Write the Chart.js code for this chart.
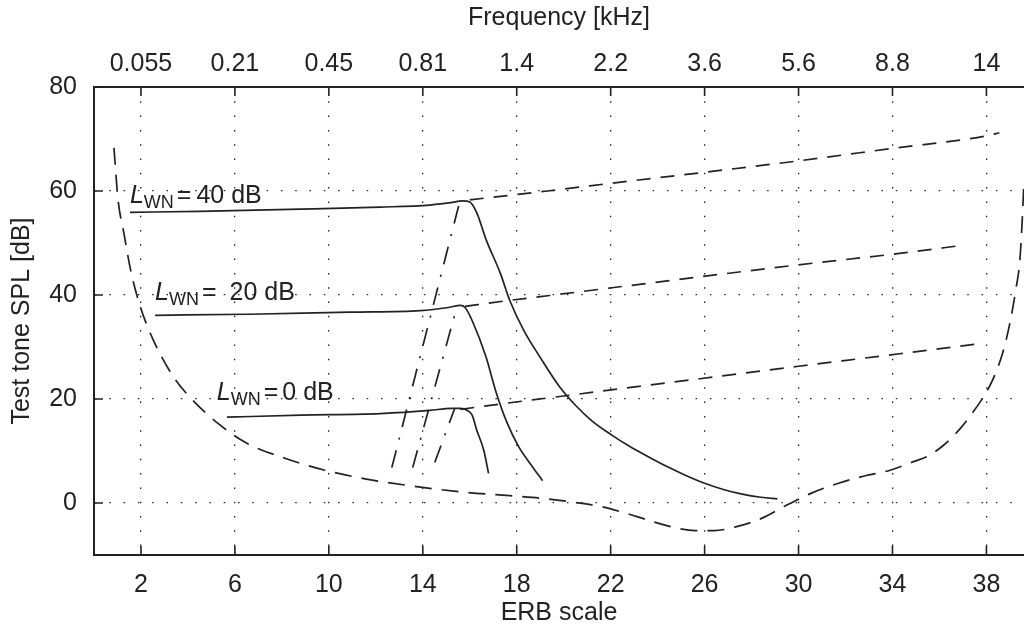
<!DOCTYPE html>
<html>
<head>
<meta charset="utf-8">
<script src="https://cdn.jsdelivr.net/npm/chart.js@4.4.1/dist/chart.umd.min.js"></script>
<style>
html,body{margin:0;padding:0;background:#fff;overflow:hidden}
canvas{display:block}
</style>
</head>
<body>
<canvas id="c" width="1024" height="635"></canvas>
<script>
// ---------- data ----------
const erbTicks = [2, 6, 10, 14, 18, 22, 26, 30, 34, 38];
const freqTickLabels = ['0.055', '0.21', '0.45', '0.81', '1.4', '2.2', '3.6', '5.6', '8.8', '14'];
const yTicks = [0, 20, 40, 60, 80];

// threshold in quiet (dashed)
const thresholdErb = [0.85, 1.02, 1.28, 1.57, 1.96, 2.55, 3.36, 4.09, 5.28, 6.51, 8.13, 9.83, 11.6, 13.5, 15.7, 17.7, 19.3, 20.5, 21.6, 22.6, 23.6, 24.6, 25.6, 26.4, 27.4, 28.4, 29.5, 30.6, 31.7, 32.8, 33.9, 34.8, 35.5, 36.2, 36.9, 37.4, 37.9, 38.3, 38.7, 39.0, 39.25, 39.42, 39.52, 39.6];
const thresholdSpl = [68.3, 58.5, 51.7, 44.6, 37.9, 31.1, 24.4, 20.3, 15.3, 11.5, 8.6, 6.3, 4.6, 3.3, 2.1, 1.4, 0.8, 0.1, -0.7, -1.9, -3.3, -4.6, -5.3, -5.3, -4.5, -3.0, -0.4, 2.0, 3.8, 5.2, 6.3, 7.8, 9.0, 11.2, 14.4, 17.3, 20.6, 24.0, 29.0, 34.6, 41.0, 46.5, 54.0, 62.0];

// masked thresholds, L_WN = 40 / 20 / 0 dB (solid)
const wn40Erb = [1.53, 4.5, 8.8, 12.2, 14.3, 15.1, 15.7, 16.0, 16.3, 16.7, 17.3, 17.7, 18.3, 19.0, 19.8, 20.5, 21.2, 22.0, 22.8, 23.6, 24.4, 25.2, 26.0, 26.8, 27.6, 28.4, 29.1];
const wn40Spl = [55.9, 56.1, 56.5, 56.9, 57.3, 57.7, 58.1, 57.9, 55.8, 50.6, 44.2, 39.0, 33.2, 28.0, 22.5, 18.8, 15.8, 13.2, 10.9, 8.9, 7.0, 5.3, 3.8, 2.6, 1.7, 1.1, 0.8];
const wn20Erb = [2.6, 6.6, 10.9, 13.9, 15.1, 15.6, 15.8, 16.1, 16.7, 17.1, 17.6, 18.1, 18.7, 19.1];
const wn20Spl = [36.1, 36.3, 36.7, 37.0, 37.6, 38.0, 37.6, 35.1, 28.0, 21.6, 15.3, 10.7, 6.8, 4.3];
const wn0Erb = [5.66, 8.8, 12.2, 14.3, 15.2, 15.6, 15.9, 16.1, 16.3, 16.6, 16.8];
const wn0Spl = [16.5, 16.9, 17.2, 17.8, 18.2, 18.2, 17.8, 16.9, 14.0, 10.1, 5.7];

// dashed continuations
const ext40Erb = [16.0, 19.3, 22.6, 26.0, 30.0, 34.0, 38.0, 38.55];
const ext40Spl = [58.3, 60.0, 61.8, 63.6, 65.8, 68.2, 70.6, 71.2];
const ext20Erb = [15.8, 17.4, 19.4, 25.8, 30.0, 34.3, 37.06];
const ext20Spl = [37.8, 38.8, 39.9, 43.5, 45.8, 48.0, 49.6];
const ext0Erb = [15.6, 17.4, 19.5, 25.8, 30.0, 34.3, 37.8];
const ext0Spl = [18.0, 19.1, 20.3, 23.9, 26.3, 28.7, 30.7];

// dash-dot rising slopes
const slope40Erb = [12.68, 15.57];
const slope40Spl = [6.8, 57.9];
const slope20Erb = [13.57, 15.45];
const slope20Spl = [6.8, 37.7];
const slope0Erb = [14.51, 15.36];
const slope0Spl = [7.8, 18.2];

// curve labels
const labelLevels = ['40 dB', '20 dB', '0 dB'];
const labelErb = [1.53, 2.6, 5.23];
const labelSpl = [57.7, 39.0, 19.75];

// ---------- styling / chart ----------
const INK = '#222';
const FONT = "'Liberation Sans', Arial, Helvetica, sans-serif";
const labelGaps = [5, 13, 4];

function pts(xs, ys) { return xs.map((x, i) => ({ x: x, y: ys[i] })); }

const DASH = [17, 10];
const EXT_DASH = [14, 10];
const DASHDOT = [18, 11, 2, 11];

const base = { borderColor: INK, borderWidth: 1.7, pointRadius: 0, pointHoverRadius: 0, fill: false, cubicInterpolationMode: 'monotone' };
const datasets = [
  { label: 'threshold', data: pts(thresholdErb, thresholdSpl), borderDash: DASH },
  { label: 'wn40', data: pts(wn40Erb, wn40Spl) },
  { label: 'wn20', data: pts(wn20Erb, wn20Spl) },
  { label: 'wn0', data: pts(wn0Erb, wn0Spl) },
  { label: 'ext40', data: pts(ext40Erb, ext40Spl), borderDash: EXT_DASH },
  { label: 'ext20', data: pts(ext20Erb, ext20Spl), borderDash: EXT_DASH },
  { label: 'ext0', data: pts(ext0Erb, ext0Spl), borderDash: EXT_DASH },
  { label: 'slope40', data: pts(slope40Erb, slope40Spl), borderDash: DASHDOT, cubicInterpolationMode: 'default', tension: 0 },
  { label: 'slope20', data: pts(slope20Erb, slope20Spl), borderDash: DASHDOT, cubicInterpolationMode: 'default', tension: 0 },
  { label: 'slope0', data: pts(slope0Erb, slope0Spl), borderDash: DASHDOT, cubicInterpolationMode: 'default', tension: 0 }
].map(d => Object.assign({}, base, d));

const setTicks = (vals) => (s) => { s.ticks = vals.map(v => ({ value: v })); };

const decor = {
  id: 'decor',
  beforeDraw(chart) {
    const c = chart.ctx;
    c.save(); c.fillStyle = '#fff'; c.fillRect(0, 0, chart.width, chart.height); c.restore();
  },
  afterDraw(chart) {
    const { ctx, chartArea: a, scales } = chart;
    const x = scales.x, y = scales.y;
    ctx.save();
    ctx.strokeStyle = INK;
    ctx.lineWidth = 1.6;
    ctx.beginPath();
    erbTicks.forEach(v => {
      const p = x.getPixelForValue(v);
      ctx.moveTo(p, a.bottom); ctx.lineTo(p, a.bottom - 9);
      ctx.moveTo(p, a.top); ctx.lineTo(p, a.top + 9);
    });
    yTicks.forEach(v => {
      const p = y.getPixelForValue(v);
      ctx.moveTo(a.left, p); ctx.lineTo(a.left + 9, p);
    });
    ctx.stroke();

    ctx.fillStyle = INK;
    ctx.textBaseline = 'alphabetic';
    ctx.textAlign = 'left';
    labelLevels.forEach((txt, i) => {
      let px = x.getPixelForValue(labelErb[i]);
      const py = y.getPixelForValue(labelSpl[i]);
      ctx.font = 'italic 25px ' + FONT;
      ctx.fillText('L', px, py);
      px += ctx.measureText('L').width;
      ctx.font = '18px ' + FONT;
      ctx.fillText('WN', px, py + 5);
      px += ctx.measureText('WN').width + 3;
      ctx.font = '25px ' + FONT;
      ctx.fillText('=', px, py);
      px += ctx.measureText('=').width + labelGaps[i];
      ctx.fillText(txt, px, py);
    });
    ctx.restore();
  }
};

const tickFont = { family: FONT, size: 25 };

new Chart(document.getElementById('c'), {
  type: 'line',
  data: { datasets: datasets },
  plugins: [decor],
  options: {
    responsive: false,
    animation: false,
    events: [],
    layout: { padding: 0 },
    plugins: { legend: { display: false }, tooltip: { enabled: false } },
    scales: {
      x: {
        type: 'linear', position: 'bottom', min: 0, max: 39.6,
        afterBuildTicks: setTicks(erbTicks),
        afterFit: (s) => { s.height = 80; },
        grid: { color: INK, lineWidth: 1.3, drawTicks: false },
        border: { display: true, color: INK, width: 2, dash: [1.5, 12.8] },
        ticks: { color: INK, font: tickFont, padding: 15, maxRotation: 0, autoSkip: false, callback: (v) => String(v) },
        title: { display: true, text: 'ERB scale', color: INK, font: tickFont, padding: { top: 0, bottom: 7 } }
      },
      x2: {
        type: 'linear', position: 'top', min: 0, max: 39.6,
        afterBuildTicks: setTicks(erbTicks),
        afterFit: (s) => { s.height = 87; },
        grid: { display: false, drawTicks: false },
        border: { display: true, color: INK, width: 2 },
        ticks: { color: INK, font: tickFont, padding: 8, maxRotation: 0, autoSkip: false,
                 callback: (v) => freqTickLabels[erbTicks.indexOf(v)] },
        title: { display: true, text: 'Frequency [kHz]', color: INK, font: tickFont, padding: { top: 3, bottom: 0 } }
      },
      y: {
        type: 'linear', position: 'left', min: -10, max: 80,
        afterBuildTicks: setTicks(yTicks),
        afterFit: (s) => { s.width = 94; },
        grid: { color: INK, lineWidth: 1.3, drawTicks: false },
        border: { display: true, color: INK, width: 2, dash: [1.5, 12.8] },
        ticks: { color: INK, font: tickFont, padding: 17 },
        title: { display: true, text: 'Test tone SPL [dB]', color: INK, font: tickFont, padding: { top: 7, bottom: 0 } }
      }
    }
  }
});
</script>
</body>
</html>
